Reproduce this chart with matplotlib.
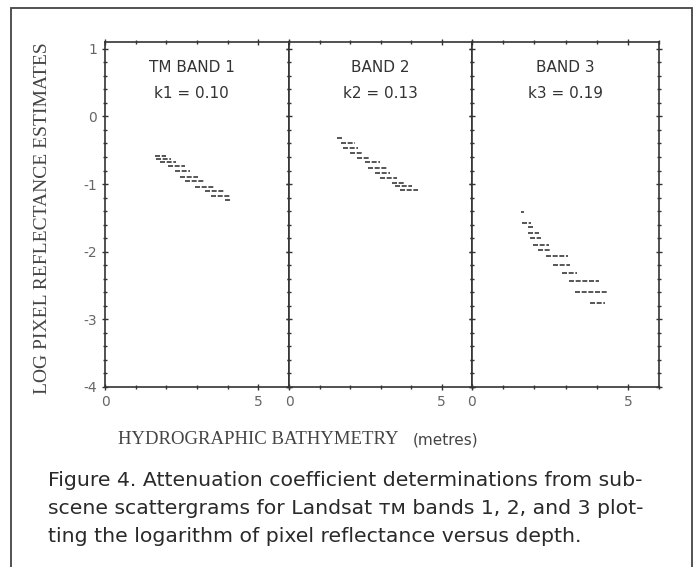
import matplotlib.pyplot as plt
from matplotlib.patches import Rectangle
from matplotlib.ticker import MultipleLocator

# each scattergram row: log reflectance, depth from, depth to
band1_y = [-0.58, -0.63, -0.68, -0.74, -0.81, -0.89, -0.96, -1.04, -1.10, -1.17, -1.23]
band1_x0 = [1.62, 1.67, 1.80, 2.06, 2.29, 2.45, 2.61, 2.94, 3.27, 3.46, 3.92]
band1_x1 = [2.00, 2.16, 2.32, 2.61, 2.78, 3.04, 3.27, 3.59, 3.92, 4.12, 4.08]

band2_y = [-0.32, -0.40, -0.46, -0.54, -0.61, -0.68, -0.76, -0.83, -0.91, -0.98, -1.03, -1.09]
band2_x0 = [1.56, 1.72, 1.76, 1.99, 2.22, 2.48, 2.58, 2.81, 2.97, 3.37, 3.46, 3.63]
band2_x1 = [1.77, 2.16, 2.25, 2.42, 2.65, 2.97, 3.20, 3.30, 3.53, 3.79, 4.02, 4.22]

band3_y = [-1.42, -1.57, -1.64, -1.72, -1.80, -1.90, -1.98, -2.07, -2.19, -2.31, -2.44, -2.59, -2.76]
band3_x0 = [1.57, 1.60, 1.80, 1.80, 1.86, 1.96, 2.12, 2.39, 2.61, 2.88, 3.10, 3.30, 3.79]
band3_x1 = [1.67, 1.90, 1.99, 2.16, 2.22, 2.48, 2.55, 3.07, 3.14, 3.37, 4.08, 4.35, 4.28]

titles = ['TM BAND 1', 'BAND 2', 'BAND 3']
k_labels = ['k1 = 0.10', 'k2 = 0.13', 'k3 = 0.19']

bands = [(band1_y, band1_x0, band1_x1),
         (band2_y, band2_x0, band2_x1),
         (band3_y, band3_x0, band3_x1)]

fig = plt.figure(figsize=(6.99, 5.67), dpi=100)

# outer frame round the figure
fig.patches.append(Rectangle((11/699, -0.02), (692-11)/699, 1.02 - 8/567,
                             transform=fig.transFigure, fill=False,
                             edgecolor='#444444', linewidth=1.3))

ink = '#333333'
lefts = [105, 289, 472]
rights = [289, 472, 659]
bottom = 1 - 387/567
top = 1 - 42/567

for i in range(3):
    ax = fig.add_axes([lefts[i]/699, bottom, (rights[i]-lefts[i])/699, top - bottom])
    y, x0, x1 = bands[i]
    ax.hlines(y, x0, x1, colors='#3a3a3a', linewidth=1.2, linestyles=(0, (3, 1)))
    ax.set_xlim(0, 6)
    ax.set_ylim(-4, 1.1)
    ax.xaxis.set_major_locator(MultipleLocator(5))
    ax.xaxis.set_minor_locator(MultipleLocator(1))
    ax.yaxis.set_major_locator(MultipleLocator(1))
    ax.yaxis.set_minor_locator(MultipleLocator(0.2))
    ax.tick_params(which='both', direction='inout', top=True, right=True,
                   color=ink, labelcolor='#666666', labelsize=10)
    ax.tick_params(which='major', length=4, width=1)
    ax.tick_params(which='minor', length=2.5, width=1)
    ax.tick_params(axis='x', pad=4)
    ax.set_xticks([0, 5])
    ax.set_xticklabels(['0', '5'])
    if i > 0:
        ax.set_yticklabels([])
    else:
        ax.set_yticks([-4, -3, -2, -1, 0, 1])
        ax.set_yticklabels(['-4', '-3', '-2', '-1', '0', '1'])
    for s in ax.spines.values():
        s.set_color(ink)
        s.set_linewidth(1.2)
    cx = 0.5 if i else 0.47
    ax.text(cx, 0.925, titles[i], transform=ax.transAxes,
            ha='center', va='center', fontsize=11, color=ink)
    ax.text(cx, 0.852, k_labels[i], transform=ax.transAxes,
            ha='center', va='center', fontsize=11, color=ink)

fig.text(43/699, 1 - 218/567, 'LOG PIXEL REFLECTANCE ESTIMATES', rotation=90,
         ha='center', va='center', fontsize=14, family='Liberation Serif', color='#444444')
fig.text(118/699, 1 - 440/567, 'HYDROGRAPHIC BATHYMETRY', ha='left', va='center',
         fontsize=13.5, family='Liberation Serif', color='#444444')
fig.text(413/699, 1 - 440/567, '(metres)', ha='left', va='center',
         fontsize=11, color='#444444')

caption = ['Figure 4. Attenuation coefficient determinations from sub-',
           'scene scattergrams for Landsat \u1d1b\u1d0d bands 1, 2, and 3 plot-',
           'ting the logarithm of pixel reflectance versus depth.']
for j, line in enumerate(caption):
    fig.text(48/699, 1 - (481 + 28*j)/567, line, ha='left', va='center',
             fontsize=14.7, family=['Liberation Sans Narrow', 'DejaVu Sans'],
             color='#2a2a2a')

fig.savefig('out.png', dpi=100)
